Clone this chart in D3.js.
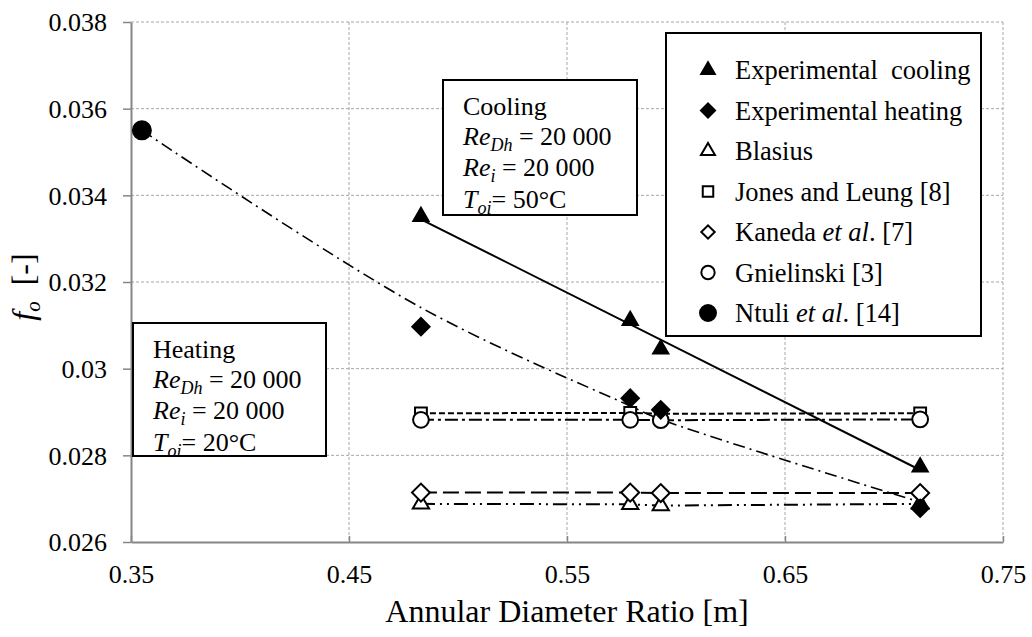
<!DOCTYPE html>
<html><head><meta charset="utf-8">
<script src="https://cdn.jsdelivr.net/npm/d3@7"></script>
<style>
html,body{margin:0;padding:0;background:#fff;}
svg{display:block;}
svg text{font-family:"Liberation Serif",serif !important;}
</style></head>
<body><svg id="chart" width="1032" height="637" font-family="Liberation Serif"></svg>
<script>
// ---- data ----
const ratios = [0.483, 0.579, 0.593, 0.712];
const expCooling = [0.03351, 0.03111, 0.03045, 0.02773];
const expHeating = [0.03097, 0.02932, 0.02905, 0.02678];
const blasius = [0.02688, 0.02687, 0.02684, 0.02688];
const jonesLeung = [0.02897, 0.02898, 0.02896, 0.02897];
const kaneda = [0.02714, 0.02714, 0.02713, 0.02713];
const gnielinski = [0.02882, 0.02882, 0.02881, 0.02883];
const ntuliRatios = [0.355, 0.483, 0.579, 0.593, 0.712];
const ntuli = [0.0355, 0.03141, 0.02914, 0.02883, 0.02692];
const xTicks = [0.35, 0.45, 0.55, 0.65, 0.75];
const xTickLabels = ["0.35", "0.45", "0.55", "0.65", "0.75"];
const yTicks = [0.026, 0.028, 0.030, 0.032, 0.034, 0.036, 0.038];
const yTickLabels = ["0.026", "0.028", "0.03", "0.032", "0.034", "0.036", "0.038"];
const legendNames = ["Experimental  cooling", "Experimental heating", "Blasius", "Jones and Leung [8]", "Kaneda et al. [7]", "Gnielinski [3]", "Ntuli et al. [14]"];

const FONT = "Liberation Serif";
const svg = d3.select("#chart");
const L = 131, R = 1003, T = 22, B = 542;
const x = d3.scaleLinear().domain([0.35, 0.75]).range([L, R]);
const y = d3.scaleLinear().domain([0.026, 0.038]).range([B, T]);
const AX = "#868686", GRID = "#a6a6a6";

// gridlines
svg.append("g").selectAll("line").data(yTicks.slice(1)).join("line")
  .attr("x1", L).attr("x2", R).attr("y1", d => y(d)).attr("y2", d => y(d))
  .attr("stroke", GRID).attr("stroke-width", 1).attr("stroke-dasharray", "3,2");
svg.append("g").selectAll("line").data(xTicks.slice(1)).join("line")
  .attr("x1", d => x(d)).attr("x2", d => x(d)).attr("y1", T).attr("y2", B)
  .attr("stroke", GRID).attr("stroke-width", 1).attr("stroke-dasharray", "3,2");

// axes
const yAxis = svg.append("g").attr("transform", `translate(${L},0)`)
  .call(d3.axisLeft(y).tickValues(yTicks).tickFormat((d, i) => yTickLabels[i]).tickSizeInner(8).tickSizeOuter(0).tickPadding(16));
const xAxis = svg.append("g").attr("transform", `translate(0,${B})`)
  .call(d3.axisBottom(x).tickValues(xTicks).tickFormat((d, i) => xTickLabels[i]).tickSizeInner(-6).tickSizeOuter(0).tickPadding(23));
[yAxis, xAxis].forEach(g => {
  g.attr("font-family", FONT).attr("font-size", 26);
  g.select(".domain").attr("stroke", AX).attr("stroke-width", 2);
  g.selectAll(".tick line").attr("stroke", AX).attr("stroke-width", 1.5);
  g.selectAll("text").attr("font-family", FONT).attr("font-size", 26).attr("fill", "#000");
});
yAxis.selectAll("text").attr("dy", "0.34em");

// axis titles
svg.append("text").attr("x", (L + R) / 2).attr("y", 622).attr("text-anchor", "middle")
  .attr("font-family", FONT).attr("font-size", 32).text("Annular Diameter Ratio [m]");
const yt = svg.append("text").attr("transform", "translate(34,287) rotate(-90)")
  .attr("text-anchor", "middle").attr("font-family", FONT).attr("font-size", 32);
yt.append("tspan").attr("font-style", "italic").text("f");
yt.append("tspan").attr("font-style", "italic").attr("font-size", 21).attr("dy", 6).text("o");
yt.append("tspan").attr("dy", -6).text("\u00a0\u00a0[-]");

// lines
const lineG = svg.append("g").attr("fill", "none").attr("stroke", "#000");
function flatLine(vals, dash, w) {
  lineG.append("path").datum(ratios.map((r, i) => [r, vals[i]]))
    .attr("d", d3.line().x(d => x(d[0])).y(d => y(d[1])))
    .attr("stroke-width", w).attr("stroke-dasharray", dash);
}
flatLine(blasius, "14,5,2,5,2,5", 2);
flatLine(jonesLeung, "6,3", 2);
flatLine(kaneda, "16,6", 2);
flatLine(gnielinski, "13,4,3,4", 2);

// cooling linear trendline (least squares from data)
const mx = d3.mean(ratios), my = d3.mean(expCooling);
const slope = d3.sum(ratios.map((r, i) => (r - mx) * (expCooling[i] - my))) / d3.sum(ratios.map(r => (r - mx) ** 2));
const xr = d3.extent(ratios);
lineG.append("path").datum(xr.map(r => [r, my + slope * (r - mx)]))
  .attr("d", d3.line().x(d => x(d[0])).y(d => y(d[1])))
  .attr("stroke-width", 2);

// Ntuli smooth curve
lineG.append("path").datum(ntuliRatios.map((r, i) => [r, ntuli[i]]))
  .attr("d", d3.line().x(d => x(d[0])).y(d => y(d[1])).curve(d3.curveCatmullRom.alpha(0.5)))
  .attr("stroke-width", 1.6).attr("stroke-dasharray", "12,5,2,5");

// markers
const tri = s => d3.symbol(d3.symbolTriangle, s)();
const sq = s => d3.symbol(d3.symbolSquare, s)();
const circ = s => d3.symbol(d3.symbolCircle, s)();
const styles = {
  cooling: { p: tri(100), fill: "#000", rot: 0 },
  heating: { p: sq(150), fill: "#000", rot: 45 },
  blasius: { p: tri(115), fill: "#fff", rot: 0 },
  jones: { p: sq(140), fill: "#fff", rot: 0 },
  kaneda: { p: sq(160), fill: "#fff", rot: 45 },
  gniel: { p: circ(195), fill: "#fff", rot: 0 },
  ntuli: { p: circ(254), fill: "#000", rot: 0 }
};
const mG = svg.append("g");
function markers(xs, vals, st) {
  mG.append("g").selectAll("path").data(xs.map((r, i) => [r, vals[i]])).join("path")
    .attr("d", st.p)
    .attr("transform", d => `translate(${x(d[0])},${y(d[1])}) rotate(${st.rot})`)
    .attr("fill", st.fill).attr("stroke", "#000").attr("stroke-width", 2);
}
markers(ratios, blasius, styles.blasius);
markers(ratios, jonesLeung, styles.jones);
markers(ratios, kaneda, styles.kaneda);
markers(ratios, gnielinski, styles.gniel);
markers(ratios, expHeating, styles.heating);
markers(ratios, expCooling, styles.cooling);
markers(ntuliRatios.slice(0, 1), ntuli.slice(0, 1), styles.ntuli);

// annotation boxes
function annBox(x0, y0, w, h, title, temp) {
  const g = svg.append("g").attr("font-family", FONT);
  g.append("rect").attr("x", x0).attr("y", y0).attr("width", w).attr("height", h)
    .attr("fill", "#fff").attr("stroke", "#000").attr("stroke-width", 2);
  const tx = x0 + 20;
  const fs = 26;
  g.append("text").attr("x", tx).attr("y", y0 + 35).attr("font-size", fs).text(title);
  let t = g.append("text").attr("x", tx).attr("y", y0 + 65).attr("font-size", fs);
  t.append("tspan").attr("font-style", "italic").text("Re");
  t.append("tspan").attr("font-style", "italic").attr("font-size", 18).attr("dy", 6).text("Dh");
  t.append("tspan").attr("dy", -6).text(" = 20 000");
  t = g.append("text").attr("x", tx).attr("y", y0 + 96).attr("font-size", fs);
  t.append("tspan").attr("font-style", "italic").text("Re");
  t.append("tspan").attr("font-style", "italic").attr("font-size", 18).attr("dy", 6).text("i");
  t.append("tspan").attr("dy", -6).text(" = 20 000");
  t = g.append("text").attr("x", tx).attr("y", y0 + 128).attr("font-size", fs);
  t.append("tspan").attr("font-style", "italic").text("T");
  t.append("tspan").attr("font-style", "italic").attr("font-size", 18).attr("dy", 6).text("oi");
  t.append("tspan").attr("dy", -6).text("= " + temp);
}
annBox(443, 80, 194, 135, "Cooling", "50\u00b0C");
annBox(133, 323, 193, 133, "Heating", "20\u00b0C");

// legend
const lg = svg.append("g").attr("font-family", FONT);
lg.append("rect").attr("x", 666).attr("y", 33).attr("width", 315).attr("height", 303)
  .attr("fill", "#fff").attr("stroke", "#000").attr("stroke-width", 2);
const legStyles = [
  { p: tri(80), fill: "#000", rot: 0 },
  { p: sq(100), fill: "#000", rot: 45 },
  { p: tri(85), fill: "#fff", rot: 0 },
  { p: sq(110), fill: "#fff", rot: 0 },
  { p: sq(90), fill: "#fff", rot: 45 },
  { p: circ(140), fill: "#fff", rot: 0 },
  { p: circ(200), fill: "#000", rot: 0 }
];
legendNames.forEach((name, i) => {
  const cy = 70 + i * 40.5;
  const st = legStyles[i];
  lg.append("path").attr("d", st.p).attr("transform", `translate(708,${cy}) rotate(${st.rot})`)
    .attr("fill", st.fill).attr("stroke", "#000").attr("stroke-width", 2);
  const t = lg.append("text").attr("x", 735).attr("y", cy + 9).attr("font-size", 26.5)
    .attr("font-family", FONT);
  const m = name.match(/^(.*?)(et al)(\..*)$/);
  if (m) {
    t.append("tspan").text(m[1].replace(/ /g, "\u00a0"));
    t.append("tspan").attr("font-style", "italic").text(m[2]);
    t.append("tspan").text(m[3].replace(/ /g, "\u00a0"));
  } else {
    t.text(name.replace(/ /g, "\u00a0"));
  }
});
</script></body></html>
